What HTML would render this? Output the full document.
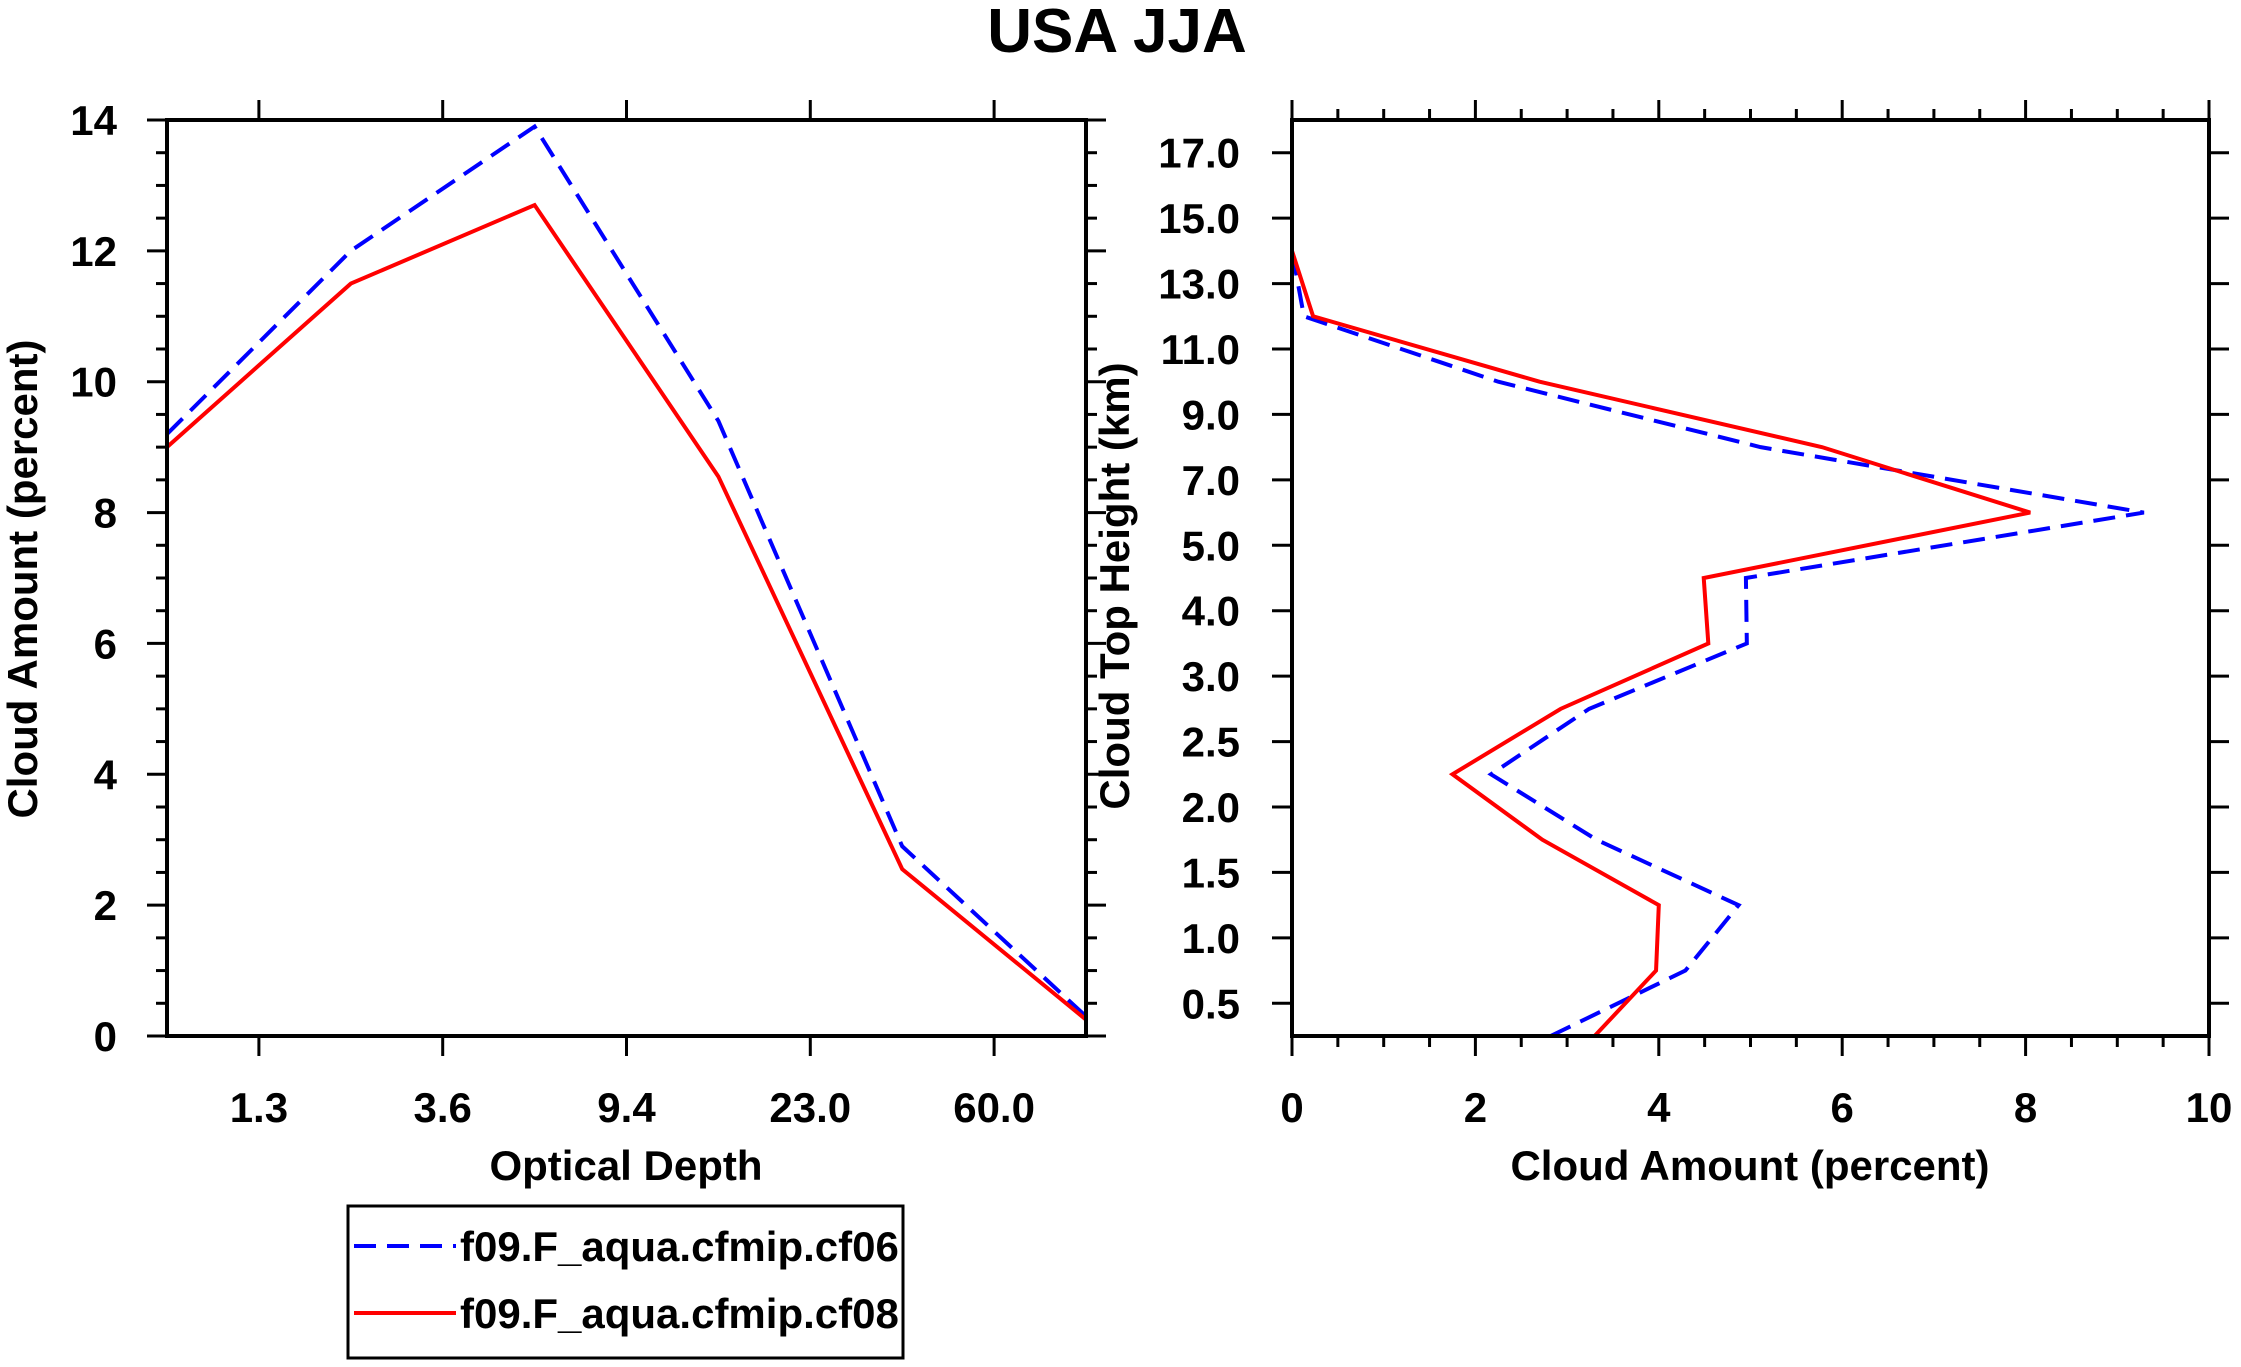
<!DOCTYPE html>
<html><head><meta charset="utf-8"><style>
html,body{margin:0;padding:0;background:#fff;}
svg{display:block;}
text{font-family:"Liberation Sans",Arial,sans-serif;font-weight:bold;fill:#000;}
</style></head><body>
<svg id="chart" width="2241" height="1367" viewBox="0 0 2241 1367" xmlns="http://www.w3.org/2000/svg">
<text x="1117" y="52" font-size="62" text-anchor="middle">USA JJA</text>
<g id="left"></g>
<g id="right"></g>
<g id="legend"></g>
</svg>
<script>
// Left panel data
const tauLabels = ["1.3","3.6","9.4","23.0","60.0"];
const tauIndex = [0,1,2,3,4,5];
const leftBlue = [9.2,12.0,13.9,9.4,2.9,0.3];
const leftRed = [9.0,11.5,12.7,8.55,2.55,0.25];
const leftYTicks = [0,2,4,6,8,10,12,14];
// Right panel data
const heightLabels = ["0.5","1.0","1.5","2.0","2.5","3.0","4.0","5.0","7.0","9.0","11.0","13.0","15.0","17.0"];
const rightBlue = [2.82,4.29,4.87,3.32,2.17,3.24,4.96,4.95,9.29,5.11,2.25,0.13,0,0,0];
const rightRed = [3.30,3.97,4.0,2.73,1.75,2.93,4.54,4.49,8.05,5.78,2.70,0.23,0,0,0];
const rightXTicks = [0,2,4,6,8,10];
const seriesNames = ["f09.F_aqua.cfmip.cf06","f09.F_aqua.cfmip.cf08"];

const NS="http://www.w3.org/2000/svg";
function mk(parent,tag,attrs){const e=document.createElementNS(NS,tag);for(const k in attrs)e.setAttribute(k,attrs[k]);parent.appendChild(e);return e;}
function line(p,x1,y1,x2,y2,w){return mk(p,"line",{x1:x1,y1:y1,x2:x2,y2:y2,stroke:"#000","stroke-width":w});}

// ---------- Left panel ----------
const L=document.getElementById("left");
const lx0=167,lx1=1086,ly0=120,ly1=1036;
const lxs=v=>lx0+(v-0)/(5-0)*(lx1-lx0);
const lys=v=>ly1-(v/14)*(ly1-ly0);
for(let v=0;v<=14.001;v+=0.5){
  const y=lys(v),maj=Math.abs(v%2)<1e-6;const len=maj?20:11;
  let t=line(L,lx0-len,y,lx0,y,3);
  
  
  t=line(L,lx1,y,lx1+len,y,3);
  
  
}
leftYTicks.forEach(v=>{
  const tx=mk(L,"text",{x:lx0-50,y:lys(v)+15,"font-size":42,"text-anchor":"end"});tx.textContent=v;
  
  
});
tauLabels.forEach((s,i)=>{
  const x=lxs(i+0.5);
  let t=line(L,x,ly1,x,ly1+20,3);
  
  
  t=line(L,x,ly0-20,x,ly0,3);
  
  
  const tx=mk(L,"text",{x:x,y:ly1+86,"font-size":42,"text-anchor":"middle"});tx.textContent=s;
  
  
});
function poly(p,xs,ys,vals,idx,color,dash,name){
  const pts=vals.map((v,i)=>xs(idx[i])+","+ys(v)).join(" ");
  const a={points:pts,fill:"none",stroke:color,"stroke-width":4,"stroke-linejoin":"miter"};
  if(dash)a["stroke-dasharray"]="22,11";
  const e=mk(p,"polyline",a);
  
  
  return e;
}
poly(L,lxs,lys,leftBlue,tauIndex,"#0000ff",true,"left-series-cf06");
poly(L,lxs,lys,leftRed,tauIndex,"#ff0000",false,"left-series-cf08");
let fr=mk(L,"rect",{x:lx0,y:ly0,width:lx1-lx0,height:ly1-ly0,fill:"none",stroke:"#000","stroke-width":4});


let tt=mk(L,"text",{x:626,y:1180,"font-size":42,"text-anchor":"middle"});tt.textContent="Optical Depth";


tt=mk(L,"text",{x:0,y:0,"font-size":42,"text-anchor":"middle",transform:"translate(37,579) rotate(-90)"});tt.textContent="Cloud Amount (percent)";



// ---------- Right panel ----------
const R=document.getElementById("right");
const rx0=1292,rx1=2209,ry0=120,ry1=1036;
const rxs=v=>rx0+v/10*(rx1-rx0);
const rys=i=>ry1-(i+0.5)/14*(ry1-ry0);
for(let v=0;v<=10.001;v+=0.5){
  const x=rxs(v),maj=Math.abs(v%2)<1e-6;const len=maj?20:11;
  let t=line(R,x,ry1,x,ry1+len,3);
  
  
  t=line(R,x,ry0-len,x,ry0,3);
  
  
}
rightXTicks.forEach(v=>{
  const tx=mk(R,"text",{x:rxs(v),y:ry1+86,"font-size":42,"text-anchor":"middle"});tx.textContent=v;
  
  
});
heightLabels.forEach((s,i)=>{
  const y=rys(i);
  let t=line(R,rx0-20,y,rx0,y,3);
  
  
  t=line(R,rx1,y,rx1+20,y,3);
  
  
  const tx=mk(R,"text",{x:rx0-52,y:y+15,"font-size":42,"text-anchor":"end"});tx.textContent=s;
  
  
});
function vpoly(vals,color,dash,name){
  const pts=vals.map((v,i)=>rxs(v)+","+rys(i-0.5)).join(" ");
  const a={points:pts,fill:"none",stroke:color,"stroke-width":4};
  if(dash)a["stroke-dasharray"]="22,11";
  const e=mk(R,"polyline",a);
  
  
}
vpoly(rightBlue,"#0000ff",true,"right-series-cf06");
vpoly(rightRed,"#ff0000",false,"right-series-cf08");
fr=mk(R,"rect",{x:rx0,y:ry0,width:rx1-rx0,height:ry1-ry0,fill:"none",stroke:"#000","stroke-width":4});


tt=mk(R,"text",{x:1750,y:1180,"font-size":42,"text-anchor":"middle"});tt.textContent="Cloud Amount (percent)";


tt=mk(R,"text",{x:0,y:0,"font-size":42,"text-anchor":"middle",transform:"translate(1129,586) rotate(-90)"});tt.textContent="Cloud Top Height (km)";



// ---------- Legend ----------
const G=document.getElementById("legend");
fr=mk(G,"rect",{x:348,y:1206,width:555,height:152,fill:"#fff",stroke:"#000","stroke-width":3});


const legColors=["#0000ff","#ff0000"];
seriesNames.forEach((s,i)=>{
  const y=1246+i*67;
  const l=line(G,354,y,456,y,4);l.setAttribute("stroke",legColors[i]);
  if(i===0)l.setAttribute("stroke-dasharray","22,11");
  
  
  const tx=mk(G,"text",{x:460,y:y+15,"font-size":42});tx.textContent=s;
  
  
});
</script>
</body></html>
